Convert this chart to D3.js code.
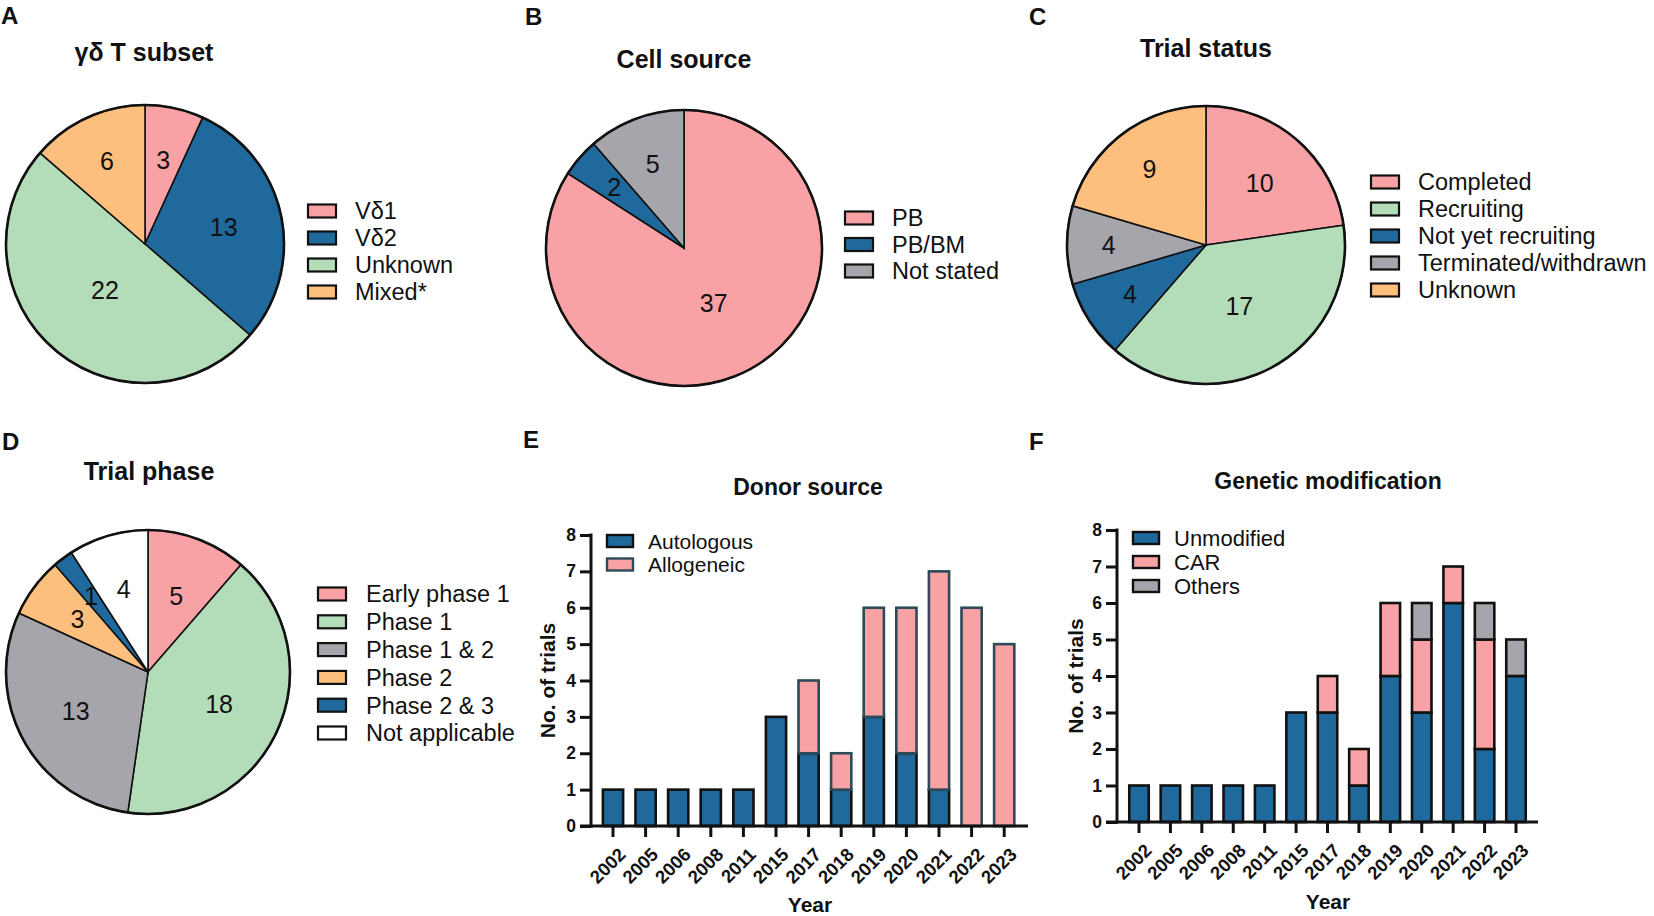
<!DOCTYPE html>
<html>
<head>
<meta charset="utf-8">
<script src="https://cdn.jsdelivr.net/npm/d3@7"></script>
<style>
  body { margin: 0; background: #fff; }
  svg text { font-family: "Liberation Sans", Arial, sans-serif; fill: #111; }
</style>
</head>
<body>
<svg id="fig" width="1654" height="916"></svg>
<script>
// DATA
const subsetLabels = ["Vδ1", "Vδ2", "Unknown", "Mixed*"];
const subsetValues = [3, 13, 22, 6];

const sourceLabels = ["PB", "PB/BM", "Not stated"];
const sourceValues = [37, 2, 5];

const statusLabels = ["Completed", "Recruiting", "Not yet recruiting", "Terminated/withdrawn", "Unknown"];
const statusValues = [10, 17, 4, 4, 9];

const phaseLabels = ["Early phase 1", "Phase 1", "Phase 1 & 2", "Phase 2", "Phase 2 & 3", "Not applicable"];
const phaseValues = [5, 18, 13, 3, 1, 4];

const years = ["2002", "2005", "2006", "2008", "2011", "2015", "2017", "2018", "2019", "2020", "2021", "2022", "2023"];
const autologous = [1, 1, 1, 1, 1, 3, 2, 1, 3, 2, 1, 0, 0];
const allogeneic = [0, 0, 0, 0, 0, 0, 2, 1, 3, 4, 6, 6, 5];

const unmodified = [1, 1, 1, 1, 1, 3, 3, 1, 4, 3, 6, 2, 4];
const carValues  = [0, 0, 0, 0, 0, 0, 1, 1, 2, 2, 1, 3, 0];
const others     = [0, 0, 0, 0, 0, 0, 0, 0, 0, 1, 0, 1, 1];

// COLOURS
const PINK = "#F9A2A6", BLUE = "#1F699D", GREEN = "#B3DCB9",
      ORANGE = "#FDBF7D", GRAY = "#A6A5AB", WHITE = "#FFFFFF";

const svg = d3.select("#fig");

// panel letters + titles
function panelLetter(txt, x, y) {
    svg.append("text").attr("x", x).attr("y", y)
        .attr("font-size", "24px").attr("font-weight", "bold").text(txt);
}
function title(txt, x, y, size) {
    svg.append("text").attr("x", x).attr("y", y)
        .attr("text-anchor", "middle")
        .attr("font-size", size).attr("font-weight", "bold").text(txt);
}

//PIE CHARTS
function drawPie(o) {
    const g = svg.append("g").attr("transform", `translate(${o.cx},${o.cy})`);
    const rows = o.labels.map((l, i) => ({ label: l, value: o.values[i], color: o.colors[i] }));
    const arcs = d3.pie().sort(null).value(d => d.value)(rows);
    const arc = d3.arc().innerRadius(0).outerRadius(o.r);

    g.selectAll("path.slice")
        .data(arcs)
        .join("path")
        .attr("class", "slice")
        .attr("d", arc)
        .attr("fill", d => d.data.color)
        .attr("stroke", "#111")
        .attr("stroke-width", 1.6);

    g.append("circle")
        .attr("r", o.r)
        .attr("fill", "none")
        .attr("stroke", "#111")
        .attr("stroke-width", 2.6);

    // value labels
    g.selectAll("text.val")
        .data(arcs)
        .join("text")
        .attr("class", "val")
        .attr("transform", (d, i) => {
            const k = o.r * o.labelR[i];
            const c = d3.arc().innerRadius(k).outerRadius(k).centroid(d);
            return `translate(${c[0]},${c[1]})`;
        })
        .attr("text-anchor", "middle")
        .attr("dy", "0.36em")
        .attr("font-size", "25px")
        .text(d => d.data.value);

    // legend
    const lg = svg.append("g").attr("transform", `translate(${o.legX},${o.legY})`);
    const item = lg.selectAll("g")
        .data(rows)
        .join("g")
        .attr("transform", (d, i) => `translate(0,${i * o.legStep})`);
    item.append("rect")
        .attr("x", 0).attr("y", -6.5)
        .attr("width", 28).attr("height", 13)
        .attr("fill", d => d.color)
        .attr("stroke", "#111")
        .attr("stroke-width", 2.2);
    item.append("text")
        .attr("x", o.legText)
        .attr("dy", "0.36em")
        .attr("font-size", "23.5px")
        .text(d => d.label);
}

panelLetter("A", 1, 24);
title("γδ T subset", 144, 61, "25px");
drawPie({
    cx: 145, cy: 244, r: 139,
    labels: subsetLabels, values: subsetValues,
    colors: [PINK, BLUE, GREEN, ORANGE],
    labelR: [0.62, 0.58, 0.44, 0.66],
    legX: 308, legY: 211, legStep: 27, legText: 47
});

panelLetter("B", 525, 25);
title("Cell source", 684, 68, "25px");
drawPie({
    cx: 684, cy: 248, r: 138,
    labels: sourceLabels, values: sourceValues,
    colors: [PINK, BLUE, GRAY],
    labelR: [0.45, 0.67, 0.65],
    legX: 845, legY: 218, legStep: 26.5, legText: 47
});

panelLetter("C", 1029, 25);
title("Trial status", 1206, 57, "25px");
drawPie({
    cx: 1206, cy: 245, r: 139,
    labels: statusLabels, values: statusValues,
    colors: [PINK, GREEN, BLUE, GRAY, ORANGE],
    labelR: [0.59, 0.5, 0.65, 0.7, 0.68],
    legX: 1371, legY: 182, legStep: 27, legText: 47
});

panelLetter("D", 2, 450);
title("Trial phase", 149, 480, "25px");
drawPie({
    cx: 148, cy: 672, r: 142,
    labels: phaseLabels, values: phaseValues,
    colors: [PINK, GREEN, GRAY, ORANGE, BLUE, WHITE],
    labelR: [0.57, 0.55, 0.58, 0.62, 0.67, 0.61],
    legX: 318, legY: 594, legStep: 27.8, legText: 48
});

//STACKED BAR CHARTS
function drawBars(o) {
    const rows = years.map((yr, i) => {
        const r = { year: yr };
        o.series.forEach(s => { r[s.name] = s.values[i]; });
        return r;
    });
    const keys = o.series.map(s => s.name);
    const stacked = d3.stack().keys(keys)(rows);

    const x = d3.scaleBand().domain(years).range(o.xRange)
        .paddingInner(0.38).paddingOuter(0.19);
    const y = d3.scaleLinear().domain([0, 8]).range([o.y0, o.y8]);

    // bars
    stacked.forEach((layer, li) => {
        const s = o.series[li];
        svg.append("g").selectAll("rect")
            .data(layer.filter(d => d[1] > d[0]))
            .join("rect")
            .attr("x", d => x(d.data.year))
            .attr("y", d => y(d[1]))
            .attr("width", x.bandwidth())
            .attr("height", d => y(d[0]) - y(d[1]))
            .attr("fill", s.color)
            .attr("stroke", s.stroke)
            .attr("stroke-width", 2.6);
    });

    // y axis
    const ya = svg.append("g")
        .attr("transform", `translate(${o.axisX},0)`)
        .call(d3.axisLeft(y).ticks(8).tickSize(11).tickPadding(4));
    ya.select(".domain").remove();
    ya.selectAll(".tick line").attr("stroke", "#111").attr("stroke-width", 3);
    ya.selectAll(".tick text")
        .attr("font-size", "17.5px").attr("font-weight", "bold")
        .attr("fill", "#111").attr("font-family", "Liberation Sans, Arial, sans-serif");

    // x axis
    const xa = svg.append("g")
        .attr("transform", `translate(0,${o.y0})`)
        .call(d3.axisBottom(x).tickSize(11));
    xa.select(".domain").remove();
    xa.selectAll(".tick line").attr("stroke", "#111").attr("stroke-width", 3);
    xa.selectAll(".tick text")
        .attr("x", 0).attr("y", 0).attr("dy", "0.36em")
        .attr("transform", "translate(9,25) rotate(-45)")
        .attr("text-anchor", "end")
        .attr("font-size", "18.5px").attr("font-weight", "bold")
        .attr("fill", "#111").attr("font-family", "Liberation Sans, Arial, sans-serif");

    // axis lines
    svg.append("line")
        .attr("x1", o.axisX).attr("x2", o.axisX)
        .attr("y1", o.y8 - 1.5).attr("y2", o.y0 + 1.5)
        .attr("stroke", "#111").attr("stroke-width", 3);
    svg.append("line")
        .attr("x1", o.axisX - 11).attr("x2", o.xEnd)
        .attr("y1", o.y0).attr("y2", o.y0)
        .attr("stroke", "#111").attr("stroke-width", 3);

    // axis titles
    svg.append("text")
        .attr("transform", `translate(${o.yTitleX},${(o.y0 + o.y8) / 2}) rotate(-90)`)
        .attr("text-anchor", "middle").attr("dy", "0.36em")
        .attr("font-size", "21px").attr("font-weight", "bold")
        .text("No. of trials");
    svg.append("text")
        .attr("x", o.xTitleX).attr("y", o.xTitleY)
        .attr("text-anchor", "middle")
        .attr("font-size", "21px").attr("font-weight", "bold")
        .text("Year");

    // legend
    const lg = svg.append("g").attr("transform", `translate(${o.legX},${o.legY})`);
    const item = lg.selectAll("g")
        .data(o.series)
        .join("g")
        .attr("transform", (d, i) => `translate(0,${i * o.legStep})`);
    item.append("rect")
        .attr("x", 0).attr("y", -6)
        .attr("width", 26).attr("height", 12)
        .attr("fill", d => d.color)
        .attr("stroke", d => d.stroke)
        .attr("stroke-width", 2.4);
    item.append("text")
        .attr("x", 41).attr("dy", "0.36em")
        .attr("font-size", o.legFont)
        .text(d => d.name);
}

panelLetter("E", 523, 448);
title("Donor source", 808, 495, "23px");
drawBars({
    series: [
        { name: "Autologous", values: autologous, color: BLUE, stroke: "#111" },
        { name: "Allogeneic", values: allogeneic, color: PINK, stroke: "#2d4a58" }
    ],
    xRange: [596.7, 1020.5], y0: 826, y8: 535, axisX: 591, xEnd: 1028,
    yTitleX: 547, xTitleX: 810, xTitleY: 912,
    legX: 607, legY: 541, legStep: 23.5, legFont: "21px"
});

panelLetter("F", 1029, 450);
title("Genetic modification", 1328, 489, "23px");
drawBars({
    series: [
        { name: "Unmodified", values: unmodified, color: BLUE, stroke: "#111" },
        { name: "CAR", values: carValues, color: PINK, stroke: "#111" },
        { name: "Others", values: others, color: GRAY, stroke: "#111" }
    ],
    xRange: [1123.3, 1531.7], y0: 822, y8: 530, axisX: 1117, xEnd: 1538,
    yTitleX: 1075, xTitleX: 1328, xTitleY: 909,
    legX: 1133, legY: 538, legStep: 24, legFont: "22px"
});
</script>
</body>
</html>
